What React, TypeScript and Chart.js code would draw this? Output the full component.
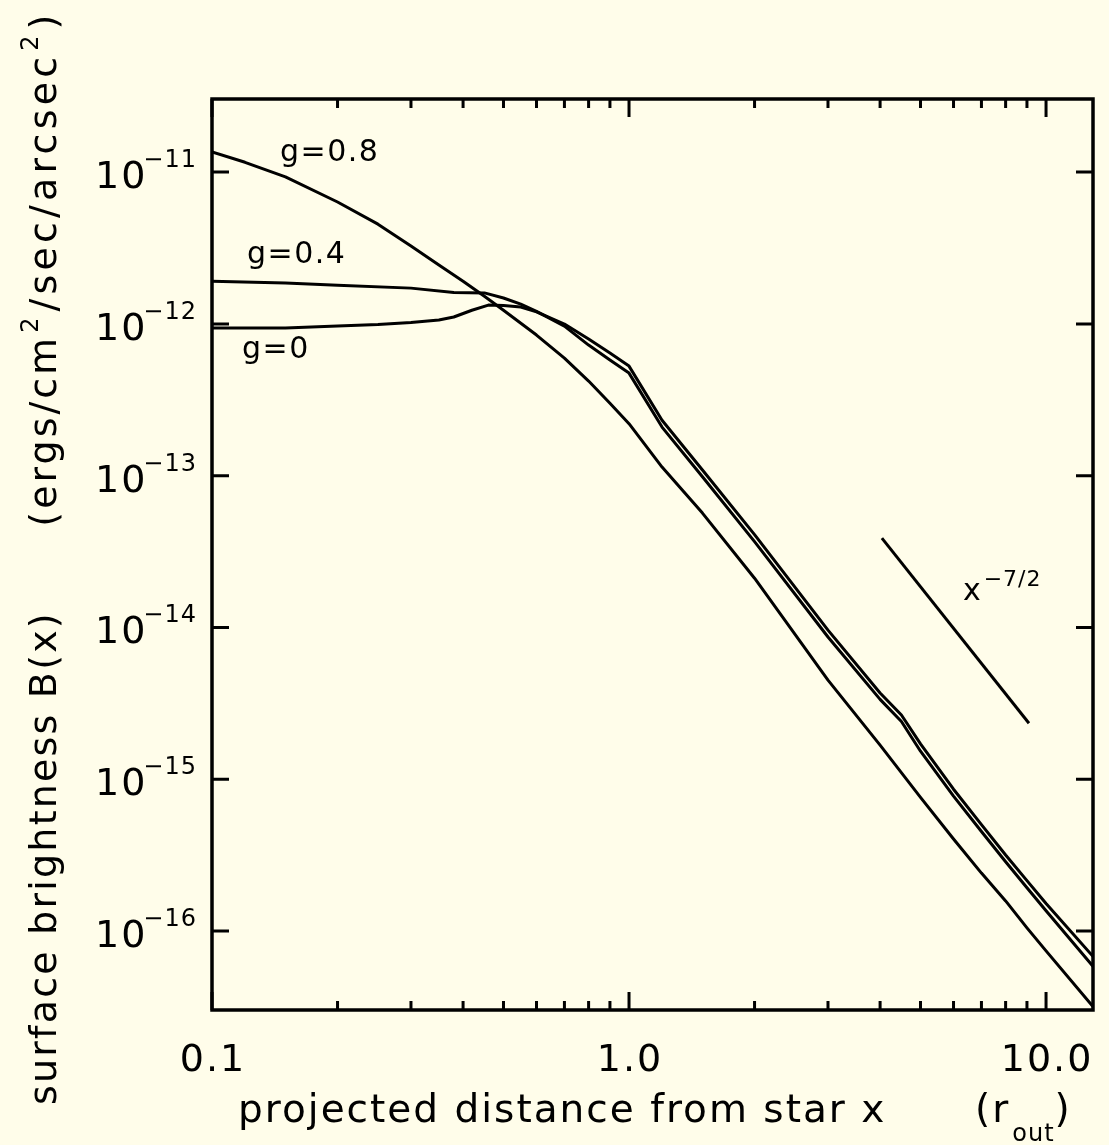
import React, { useEffect, useRef } from "react";
import { Chart, registerables } from "chart.js";

Chart.register(...registerables);

// ---- data ----
const g08X = [0.1, 0.12, 0.15, 0.2, 0.25, 0.3, 0.35, 0.4, 0.45, 0.5, 0.6, 0.7, 0.8, 0.9, 1.0, 1.2, 1.5, 2, 3, 4, 5, 6, 7, 8, 9, 10, 13];
const g08Y = [1.36e-11, 1.16e-11, 9.3e-12, 6.35e-12, 4.54e-12, 3.26e-12, 2.44e-12, 1.91e-12, 1.52e-12, 1.23e-12, 8.44e-13, 5.95e-13, 4.2e-13, 3.0e-13, 2.2e-13, 1.14e-13, 5.67e-14, 2.11e-14, 4.5e-15, 1.68e-15, 7.6e-16, 4.04e-16, 2.41e-16, 1.58e-16, 1.05e-16, 7.4e-17, 3.15e-17];

const g04X = [0.1, 0.15, 0.2, 0.3, 0.38, 0.45, 0.5, 0.55, 0.6, 0.7, 0.8, 0.9, 1.0, 1.2, 1.5, 2, 3, 4, 4.5, 5, 6, 7, 8, 9, 10, 13];
const g04Y = [1.91e-12, 1.86e-12, 1.8e-12, 1.72e-12, 1.61e-12, 1.6e-12, 1.48e-12, 1.35e-12, 1.21e-12, 9.67e-13, 7.25e-13, 5.78e-13, 4.74e-13, 2.09e-13, 9.83e-14, 3.68e-14, 8.65e-15, 3.36e-15, 2.4e-15, 1.53e-15, 7.75e-16, 4.53e-16, 2.86e-16, 1.93e-16, 1.36e-16, 5.79e-17];

const g0X = [0.1, 0.15, 0.2, 0.25, 0.3, 0.35, 0.38, 0.42, 0.46, 0.5, 0.55, 0.6, 0.7, 0.8, 0.9, 1.0, 1.2, 1.5, 2, 3, 4, 4.5, 5, 6, 7, 8, 9, 10, 13];
const g0Y = [9.38e-13, 9.4e-13, 9.68e-13, 9.9e-13, 1.02e-12, 1.06e-12, 1.11e-12, 1.23e-12, 1.33e-12, 1.32e-12, 1.29e-12, 1.2e-12, 9.97e-13, 7.94e-13, 6.42e-13, 5.27e-13, 2.32e-13, 1.09e-13, 4.09e-14, 9.6e-15, 3.7e-15, 2.65e-15, 1.71e-15, 8.6e-16, 5.03e-16, 3.17e-16, 2.15e-16, 1.52e-16, 6.74e-17];

const slopeX = [4.04, 9.1];
const slopeY = [3.88e-14, 2.34e-15];

const xMajorTicks = [0.1, 1, 10];
const xMajorLabels = ["0.1", "1.0", "10.0"];
const xMinorTicks = [0.2, 0.3, 0.4, 0.5, 0.6, 0.7, 0.8, 0.9, 2, 3, 4, 5, 6, 7, 8, 9];
const yTickExps = [-11, -12, -13, -14, -15, -16];

const curveLabels = [
  { text: "g=0.8", x: 0.1456, y: 1.18e-11 },
  { text: "g=0.4", x: 0.1213, y: 2.52e-12 },
  { text: "g=0", x: 0.118, y: 5.95e-13 },
];
const slopeLabel = { base: "x", sup: "\u22127/2", x: 6.32, y: 1.51e-14 };

const X_MIN = 0.1;
const X_MAX = 12.96;
const Y_MIN = 3.02e-17;
const Y_MAX = 3.03e-11;

const BG = "rgb(255,253,234)";
const FONT = "'DejaVu Sans', sans-serif";

type Run = { text: string; size: number; dy?: number; gap?: number; ls?: number };

function drawRuns(ctx: CanvasRenderingContext2D, runs: Run[], x: number, y: number) {
  let cx = x;
  for (const r of runs) {
    ctx.font = `${r.size}px ${FONT}`;
    (ctx as any).letterSpacing = `${r.ls ?? 2}px`;
    ctx.fillText(r.text, cx, y + (r.dy || 0));
    cx += ctx.measureText(r.text).width + (r.gap || 0);
  }
  return cx;
}

const framePlugin = {
  id: "frame",
  beforeDraw(chart: any) {
    const ctx = chart.ctx as CanvasRenderingContext2D;
    ctx.save();
    ctx.fillStyle = BG;
    ctx.fillRect(0, 0, chart.width, chart.height);
    ctx.restore();
  },
  afterDatasetsDraw(chart: any) {
    const ctx = chart.ctx as CanvasRenderingContext2D;
    const a = chart.chartArea;
    const xs = chart.scales.x;
    const ys = chart.scales.y;
    ctx.save();
    ctx.strokeStyle = "#000";
    ctx.fillStyle = "#000";
    ctx.lineCap = "butt";

    // ticks
    ctx.lineWidth = 3;
    const vtick = (v: number, len: number) => {
      const px = xs.getPixelForValue(v);
      ctx.beginPath();
      ctx.moveTo(px, a.bottom);
      ctx.lineTo(px, a.bottom - len);
      ctx.moveTo(px, a.top);
      ctx.lineTo(px, a.top + len);
      ctx.stroke();
    };
    xMajorTicks.forEach((v) => vtick(v, 18));
    xMinorTicks.forEach((v) => vtick(v, 9));
    yTickExps.forEach((e) => {
      const py = ys.getPixelForValue(Math.pow(10, e));
      ctx.beginPath();
      ctx.moveTo(a.left, py);
      ctx.lineTo(a.left + 17, py);
      ctx.moveTo(a.right, py);
      ctx.lineTo(a.right - 17, py);
      ctx.stroke();
    });

    // frame
    ctx.lineWidth = 3.5;
    ctx.strokeRect(a.left, a.top, a.right - a.left, a.bottom - a.top);

    // x tick labels
    ctx.textBaseline = "alphabetic";
    ctx.textAlign = "center";
    ctx.font = `38px ${FONT}`;
    (ctx as any).letterSpacing = "2px";
    xMajorTicks.forEach((v, i) => {
      const px = xs.getPixelForValue(v);
      ctx.fillText(xMajorLabels[i], px + 1, a.bottom + 61);
    });

    // y tick labels 10^e
    ctx.textAlign = "right";
    yTickExps.forEach((e) => {
      const py = ys.getPixelForValue(Math.pow(10, e));
      const sup = "\u2212" + String(-e);
      ctx.font = `24px ${FONT}`;
      (ctx as any).letterSpacing = "1px";
      const right = a.left - 15;
      ctx.fillText(sup, right, py - 5);
      const w = ctx.measureText(sup).width;
      ctx.font = `38px ${FONT}`;
      (ctx as any).letterSpacing = "2px";
      ctx.fillText("10", right - w + 4, py + 16);
    });

    // curve labels
    ctx.textAlign = "left";
    ctx.font = `30px ${FONT}`;
    (ctx as any).letterSpacing = "1.5px";
    curveLabels.forEach((l) => {
      ctx.fillText(l.text, xs.getPixelForValue(l.x), ys.getPixelForValue(l.y));
    });
    const sx = xs.getPixelForValue(slopeLabel.x);
    const sy = ys.getPixelForValue(slopeLabel.y);
    drawRuns(ctx, [
      { text: slopeLabel.base, size: 30, gap: 2, ls: 1 },
      { text: slopeLabel.sup, size: 22, dy: -14, ls: 1 },
    ], sx, sy);

    // x axis title
    drawRuns(ctx, [{ text: "projected distance from star x", size: 39, ls: 2 }], 238, a.bottom + 112);
    drawRuns(ctx, [
      { text: "(r", size: 39, ls: 2, gap: 2 },
      { text: "out", size: 24, dy: 19, ls: 1 },
      { text: ")", size: 39, ls: 2 },
    ], 975, a.bottom + 112);

    // y axis title (rotated)
    ctx.save();
    ctx.translate(56, 1105);
    ctx.rotate(-Math.PI / 2);
    drawRuns(ctx, [
      { text: "surface brightness B(x)", size: 38, ls: 2.2 },
      { text: "      ", size: 38, ls: 2 },
      { text: "(ergs/cm", size: 38, ls: 3, gap: 2 },
      { text: "2", size: 24, dy: -18, ls: 1, gap: 5 },
      { text: "/sec/arcsec", size: 38, ls: 4.2, gap: 2 },
      { text: "2", size: 24, dy: -18, ls: 1, gap: 5 },
      { text: ")", size: 38, ls: 2 },
    ], 0, 0);
    ctx.restore();

    ctx.restore();
  },
};

function series(xs: number[], ys: number[]) {
  return xs.map((x, i) => ({ x, y: ys[i] }));
}

export default function App() {
  const ref = useRef<HTMLCanvasElement>(null);
  useEffect(() => {
    document.body.style.margin = "0";
    document.body.style.background = BG;
    const common = { borderColor: "#000", borderWidth: 3, pointRadius: 0, tension: 0, fill: false, borderJoinStyle: "round" };
    const chart = new Chart(ref.current as HTMLCanvasElement, {
      type: "line",
      data: {
        datasets: [
          { label: "g=0.8", data: series(g08X, g08Y), ...common },
          { label: "g=0.4", data: series(g04X, g04Y), ...common },
          { label: "g=0", data: series(g0X, g0Y), ...common },
          { label: "x^-7/2", data: series(slopeX, slopeY), ...common },
        ],
      } as any,
      options: {
        animation: false,
        responsive: false,
        events: [],
        layout: { padding: { left: 212, top: 99, right: 16, bottom: 135 } },
        plugins: { legend: { display: false }, tooltip: { enabled: false } },
        scales: {
          x: { type: "logarithmic", min: X_MIN, max: X_MAX, display: false },
          y: { type: "logarithmic", min: Y_MIN, max: Y_MAX, display: false },
        },
      } as any,
      plugins: [framePlugin],
    });
    return () => chart.destroy();
  }, []);
  return (
    <div style={{ position: "absolute", left: 0, top: 0, width: 1109, height: 1145, background: BG }}>
      <canvas ref={ref} width={1109} height={1145} style={{ display: "block" }} />
    </div>
  );
}
